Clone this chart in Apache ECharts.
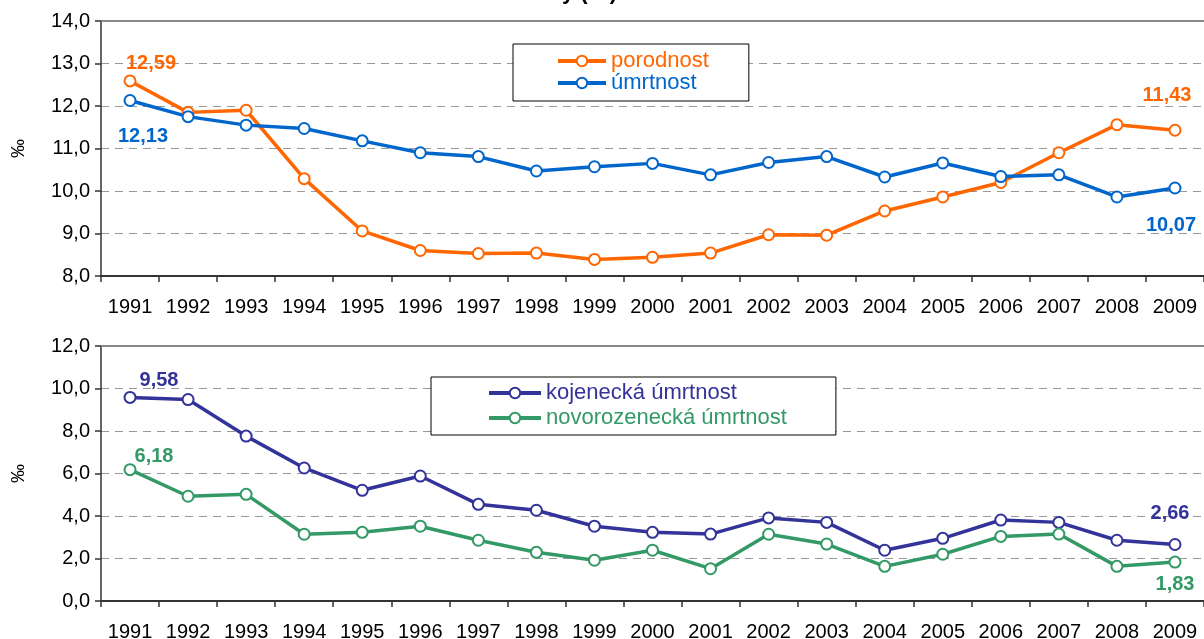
<!DOCTYPE html>
<html>
<head>
<meta charset="utf-8">
<script src="https://cdn.jsdelivr.net/npm/echarts@6/dist/echarts.min.js"></script>
<style>
  html, body { margin: 0; padding: 0; background: #fff; }
  #main { width: 1204px; height: 639px; }
</style>
</head>
<body>
<div id="main"></div>
<script>
var years = ['1991','1992','1993','1994','1995','1996','1997','1998','1999','2000',
             '2001','2002','2003','2004','2005','2006','2007','2008','2009'];
var porodnost = [12.59, 11.85, 11.90, 10.29, 9.06, 8.60, 8.53, 8.54, 8.39, 8.44,
                 8.54, 8.97, 8.96, 9.53, 9.86, 10.20, 10.90, 11.56, 11.43];
var umrtnost = [12.13, 11.75, 11.55, 11.47, 11.18, 10.90, 10.81, 10.47, 10.57, 10.65,
                10.38, 10.67, 10.81, 10.33, 10.66, 10.34, 10.38, 9.86, 10.07];
var kojenecka = [9.58, 9.48, 7.76, 6.26, 5.21, 5.88, 4.55, 4.27, 3.52, 3.23,
                 3.15, 3.91, 3.70, 2.39, 2.95, 3.81, 3.70, 2.86, 2.66];
var novorozenecka = [6.18, 4.93, 5.02, 3.14, 3.23, 3.52, 2.86, 2.29, 1.92, 2.39,
                     1.52, 3.14, 2.68, 1.63, 2.20, 3.04, 3.15, 1.63, 1.83];

var font = 'Liberation Sans, Arial, sans-serif';
var colors = ['#FF6600', '#0066CC', '#333399', '#339966'];

// label only first and last point, with hand-placed offsets
function withLabels(arr, color, firstOff, lastOff) {
    return arr.map(function (v, i) {
        if (i === 0 || i === arr.length - 1) {
            return {
                value: v,
                label: {
                    show: true,
                    position: 'inside',
                    offset: i === 0 ? firstOff : lastOff,
                    color: color,
                    fontFamily: font,
                    fontSize: 20,
                    fontWeight: 'bold',
                    formatter: function (p) { return p.value.toFixed(2).replace('.', ','); }
                }
            };
        }
        return v;
    });
}

function yAxisCfg(grid, min, max, interval) {
    return {
        type: 'value', gridIndex: grid, min: min, max: max, interval: interval,
        name: '‰', nameLocation: 'middle', nameGap: 73, nameRotate: 90,
        nameTextStyle: { fontFamily: font, fontSize: 19, color: '#000' },
        axisLine: { show: true, lineStyle: { color: '#333', width: 1.5 } },
        axisTick: { show: true, length: 6, lineStyle: { color: '#333', width: 1.5 } },
        axisLabel: {
            fontFamily: font, fontSize: 20, color: '#000', margin: 11,
            formatter: function (v) { return v.toFixed(1).replace('.', ','); }
        },
        splitLine: { show: true, lineStyle: { color: '#999', type: [8, 6], width: 1.2 } }
    };
}

function xAxisCfg(grid, margin) {
    return {
        type: 'category', gridIndex: grid, data: years, boundaryGap: true,
        axisLine: { lineStyle: { color: '#333', width: 2 } },
        axisTick: { show: true, length: 6, lineStyle: { color: '#333', width: 1.5 } },
        axisLabel: { fontFamily: font, fontSize: 20, color: '#000', margin: margin, interval: 0 }
    };
}

function topBorder(grid) {
    return {
        type: 'category', gridIndex: grid, data: years, position: 'top',
        axisLine: { lineStyle: { color: '#888', width: 2 } },
        axisTick: { show: false }, axisLabel: { show: false }
    };
}

function lineSeries(name, data, color, xi, yi) {
    return {
        name: name, type: 'line', xAxisIndex: xi, yAxisIndex: yi, data: data,
        symbol: 'circle', symbolSize: 11,
        itemStyle: { color: '#fff', borderColor: color, borderWidth: 2 },
        lineStyle: { color: color, width: 3.5 },
        emphasis: { disabled: true },
        z: 3
    };
}

function legendItem(name, color) {
    return {
        name: name,
        textStyle: { color: color },
        itemStyle: { color: '#fff', borderColor: color, borderWidth: 2 },
        lineStyle: { color: color, width: 4 }
    };
}

var chart = echarts.init(document.getElementById('main'));
var option = {
    animation: false,
    backgroundColor: '#fff',
    grid: [
        { left: 101, right: 0, top: 21, height: 255, outerBoundsMode: 'none', containLabel: false },
        { left: 101, right: 0, top: 346, height: 255, outerBoundsMode: 'none', containLabel: false }
    ],
    xAxis: [xAxisCfg(0, 21), xAxisCfg(1, 21), topBorder(0), topBorder(1)],
    yAxis: [yAxisCfg(0, 8, 14, 1), yAxisCfg(1, 0, 12, 2)],
    legend: [
        {
            data: [legendItem('porodnost', colors[0]), legendItem('úmrtnost', colors[1])],
            orient: 'vertical', left: 513, top: 44,
            padding: [6, 40, 7, 43], itemGap: 0,
            itemWidth: 48, itemHeight: 13,
            backgroundColor: '#fff',
            borderColor: '#000', borderWidth: 1,
            textStyle: { fontFamily: font, fontSize: 22, lineHeight: 20 }
        },
        {
            data: [legendItem('kojenecká úmrtnost', colors[2]), legendItem('novorozenecká úmrtnost', colors[3])],
            orient: 'vertical', left: 431, top: 377,
            padding: [5, 49, 6, 56], itemGap: 3,
            itemWidth: 52, itemHeight: 13,
            backgroundColor: '#fff',
            borderColor: '#000', borderWidth: 1,
            textStyle: { fontFamily: font, fontSize: 22, lineHeight: 21 }
        }
    ],
    graphic: [
        {
            type: 'text', x: 617, y: 4,
            style: {
                text: 'Hrubé míry (‰)', fill: '#000',
                font: 'bold 22px ' + font, textAlign: 'right', textVerticalAlign: 'bottom'
            }
        }
    ],
    series: [
        lineSeries('porodnost', withLabels(porodnost, colors[0], [21, -17], [-8, -35]), colors[0], 0, 0),
        lineSeries('úmrtnost', withLabels(umrtnost, colors[1], [13, 36], [-4, 37]), colors[1], 0, 0),
        lineSeries('kojenecká úmrtnost', withLabels(kojenecka, colors[2], [29, -17], [-5, -31]), colors[2], 1, 1),
        lineSeries('novorozenecká úmrtnost', withLabels(novorozenecka, colors[3], [24, -13], [0, 22]), colors[3], 1, 1)
    ]
};
chart.setOption(option);
</script>
</body>
</html>
